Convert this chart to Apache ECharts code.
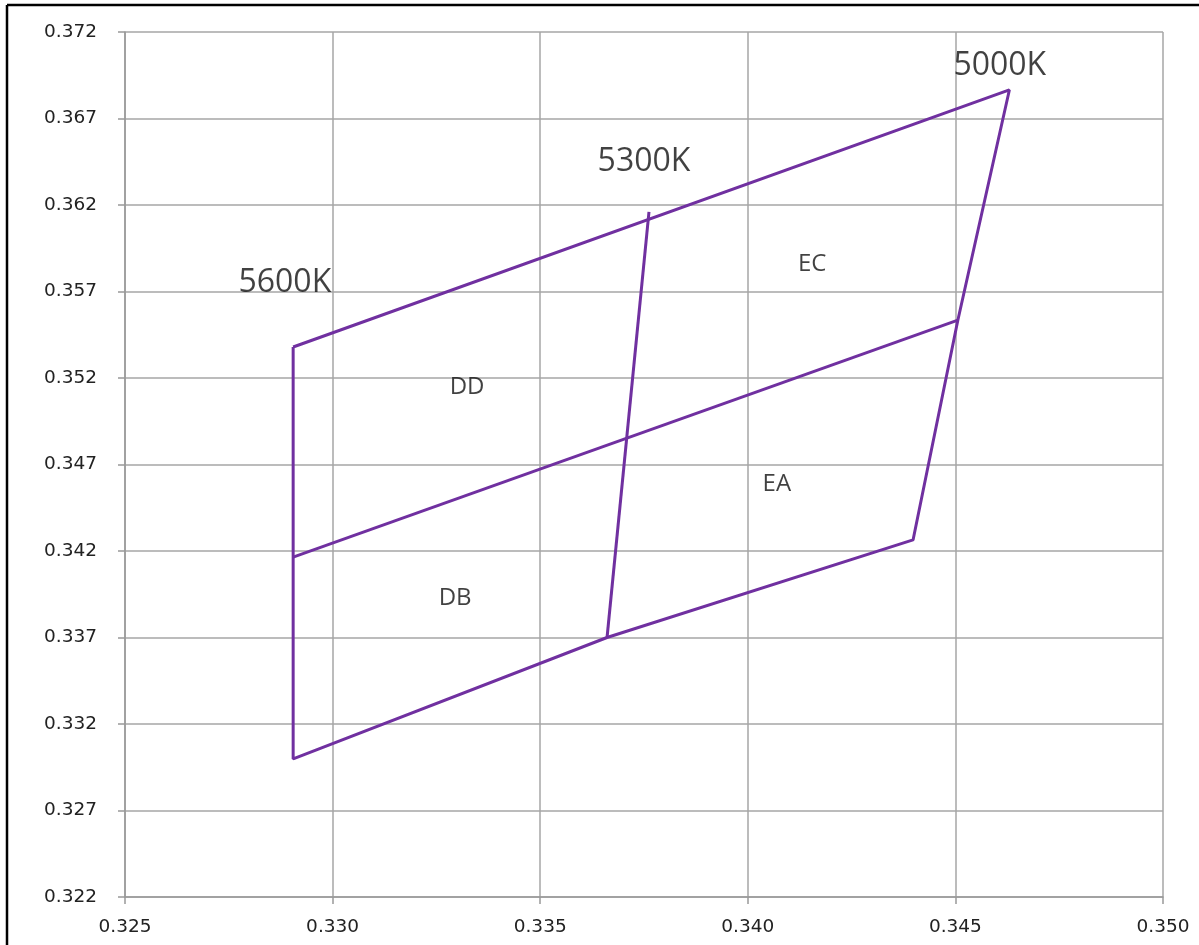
<!DOCTYPE html>
<html>
<head>
<meta charset="utf-8">
<script src="https://cdn.jsdelivr.net/npm/echarts@6/dist/echarts.min.js"></script>
<style>html,body{margin:0;padding:0;background:#fff}#c{width:1199px;height:945px}</style>
</head>
<body>
<div id="c"></div>
<script>
// Quadrangle corner points [x, y]
var outline = [[0.32905,0.35379],[0.34630,0.36865],[0.34506,0.35535],[0.34398,0.34264],[0.33661,0.33700],[0.32905,0.32998],[0.32905,0.35379]];
var midLine = [[0.32905,0.34165],[0.34506,0.35535]];
var cctLine = [[0.33762,0.36160],[0.33661,0.33700]];
// Labels
var cctLabels = [["5600K",0.32885,0.35749],["5300K",0.33750,0.36449],["5000K",0.34607,0.37003]];
var binLabels = [["DD",0.33324,0.35148],["DB",0.33295,0.33928],["EC",0.34155,0.35859],["EA",0.34070,0.34587]];
var xTicks = [0.325,0.330,0.335,0.340,0.345,0.350];
var yTicks = [0.322,0.327,0.332,0.337,0.342,0.347,0.352,0.357,0.362,0.367,0.372];

var purple = '#7030A0';
var lineStyle = {color: purple, width: 3};
function lineSeries(d){return {type:'line',data:d,symbol:'none',lineStyle:lineStyle,animation:false,silent:true};}
function labelSeries(arr,size){
  return {type:'scatter',symbolSize:0,silent:true,animation:false,
    data:arr.map(function(a){return {name:a[0],value:[a[1],a[2]]};}),
    label:{show:true,position:'inside',formatter:'{b}',fontSize:size,color:'#111',fontFamily:'Open Sans, DejaVu Sans, sans-serif'}};
}
var chart = echarts.init(document.getElementById('c'));
chart.setOption({
  backgroundColor:'#fff',
  animation:false,
  grid:{left:125,right:36,top:32,bottom:48},
  graphic:[
    {type:'line',shape:{x1:7,y1:5,x2:1199,y2:5},style:{stroke:'#000',lineWidth:2.5}},
    {type:'line',shape:{x1:7,y1:5,x2:7,y2:945},style:{stroke:'#000',lineWidth:2.5}}
  ],
  xAxis:{type:'value',min:xTicks[0],max:xTicks[xTicks.length-1],interval:0.005,
    axisLine:{show:true,onZero:false,lineStyle:{color:'#999',width:1.5}},
    axisTick:{show:true,length:7,lineStyle:{color:'#999',width:1.5}},
    splitLine:{show:true,lineStyle:{color:'#a6a6a6',width:1.5}},
    axisLabel:{margin:21,fontSize:18.5,color:'#222',fontFamily:'DejaVu Sans, sans-serif',formatter:function(v){return v.toFixed(3);}}},
  yAxis:{type:'value',min:yTicks[0],max:yTicks[yTicks.length-1],interval:0.005,
    axisLine:{show:true,onZero:false,lineStyle:{color:'#999',width:1.5}},
    axisTick:{show:true,length:7,lineStyle:{color:'#999',width:1.5}},
    splitLine:{show:true,lineStyle:{color:'#a6a6a6',width:1.5}},
    axisLabel:{margin:28,fontSize:18.5,color:'#222',fontFamily:'DejaVu Sans, sans-serif',formatter:function(v){return v.toFixed(3);}}},
  series:[lineSeries(outline),lineSeries(midLine),lineSeries(cctLine),labelSeries(cctLabels,32),labelSeries(binLabels,24)]
});
</script>
</body>
</html>
